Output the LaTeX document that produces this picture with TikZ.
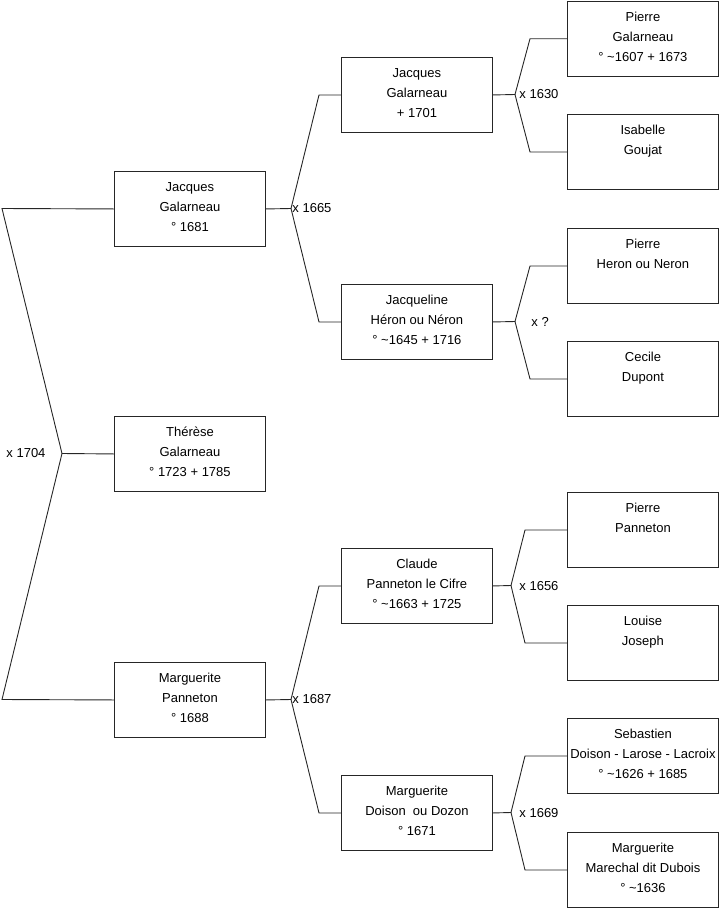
\documentclass[tikz,border=0pt]{standalone}
\usepackage{fontspec}
\setmainfont{Liberation Sans}
\newcommand{\pbot}{\\[-16pt]\mbox{}}
\begin{document}
\begin{tikzpicture}[x=1pt,y=-1pt,
  line width=0.9pt,
  person/.style={draw=black!85, anchor=north west, minimum width=151pt, minimum height=75pt,
    inner sep=0pt, align=center, font=\fontsize{13}{20}\selectfont},
  marriage/.style={anchor=west, inner sep=0pt, font=\fontsize{13}{16}\selectfont},
  link/.style={draw=black!85, line width=0.9pt}]
\useasboundingbox (0,0) rectangle (719,908);
% generation 1
\node[person] (th) at (114,416) {Thérèse\\Galarneau\\° 1723 + 1785\pbot};
% generation 2
\node[person] (j2) at (114,171) {Jacques\\Galarneau\\° 1681\pbot};
\node[person] (m2) at (114,662) {Marguerite\\Panneton\\° 1688\pbot};
% generation 3
\node[person] (j3) at (341,57) {Jacques\\Galarneau\\+ 1701\pbot};
\node[person] (jq3) at (341,284) {Jacqueline\\Héron ou Néron\\° \textasciitilde1645 + 1716\pbot};
\node[person] (c3) at (341,548) {Claude\\Panneton le Cifre\\° \textasciitilde1663 + 1725\pbot};
\node[person] (md3) at (341,775) {Marguerite\\Doison\ \ ou Dozon\\° 1671\pbot};
% generation 4
\node[person, minimum height=75.5pt] (p4a) at (567,0.5) {Pierre\\Galarneau\\° \textasciitilde1607 + 1673\pbot};
\node[person] (i4) at (567,114) {Isabelle\\Goujat\\\mbox{}\pbot};
\node[person] (p4b) at (567,228) {Pierre\\Heron ou Neron\\\mbox{}\pbot};
\node[person] (c4) at (567,341) {Cecile\\Dupont\\\mbox{}\pbot};
\node[person] (p4c) at (567,492) {Pierre\\Panneton\\\mbox{}\pbot};
\node[person] (l4) at (567,605) {Louise\\Joseph\\\mbox{}\pbot};
\node[person] (s4) at (567,718) {Sebastien\\Doison - Larose - Lacroix\\° \textasciitilde1626 + 1685\pbot};
\node[person] (mm4) at (567,832) {Marguerite\\Marechal dit Dubois\\° \textasciitilde1636\pbot};
% vertices
\coordinate (r) at (62,453.5);
\coordinate (rt) at (2,208.5);
\coordinate (rb) at (2,699.5);
\coordinate (v1) at (291,208.5);
\coordinate (v2) at (291,699.5);
\coordinate (v3) at (515,94.5);
\coordinate (v4) at (515,321.5);
\coordinate (v5) at (511,585.5);
\coordinate (v6) at (511,812.5);
% connectors
\draw[link] (j2.west) -- (rt) -- (r) -- (rb) -- (m2.west);
\draw[link] (r) -- (th.west);
\draw[link] (j2.east) -- (v1);
\draw[link] (j3.west) -- ([xshift=-22pt]j3.west) -- (v1) -- ([xshift=-22pt]jq3.west) -- (jq3.west);
\draw[link] (m2.east) -- (v2);
\draw[link] (c3.west) -- ([xshift=-22pt]c3.west) -- (v2) -- ([xshift=-22pt]md3.west) -- (md3.west);
\draw[link] (j3.east) -- (v3);
\draw[link] (p4a.west) -- ([xshift=-37pt]p4a.west) -- (v3) -- ([xshift=-37pt]i4.west) -- (i4.west);
\draw[link] (jq3.east) -- (v4);
\draw[link] (p4b.west) -- ([xshift=-37pt]p4b.west) -- (v4) -- ([xshift=-37pt]c4.west) -- (c4.west);
\draw[link] (c3.east) -- (v5);
\draw[link] (p4c.west) -- ([xshift=-42pt]p4c.west) -- (v5) -- ([xshift=-42pt]l4.west) -- (l4.west);
\draw[link] (md3.east) -- (v6);
\draw[link] (s4.west) -- ([xshift=-42pt]s4.west) -- (v6) -- ([xshift=-42pt]mm4.west) -- (mm4.west);
% marriage labels
\node[marriage] (x1) at (6,453.5) {x 1704};
\node[marriage] (x2) at (292,208.5) {x 1665};
\node[marriage] (x3) at (292,699.5) {x 1687};
\node[marriage] (x4) at (519,94.5) {x 1630};
\node[marriage] (x5) at (531,321.5) {x ?};
\node[marriage] (x6) at (519,586.5) {x 1656};
\node[marriage] (x7) at (519,813) {x 1669};
\end{tikzpicture}
\end{document}
